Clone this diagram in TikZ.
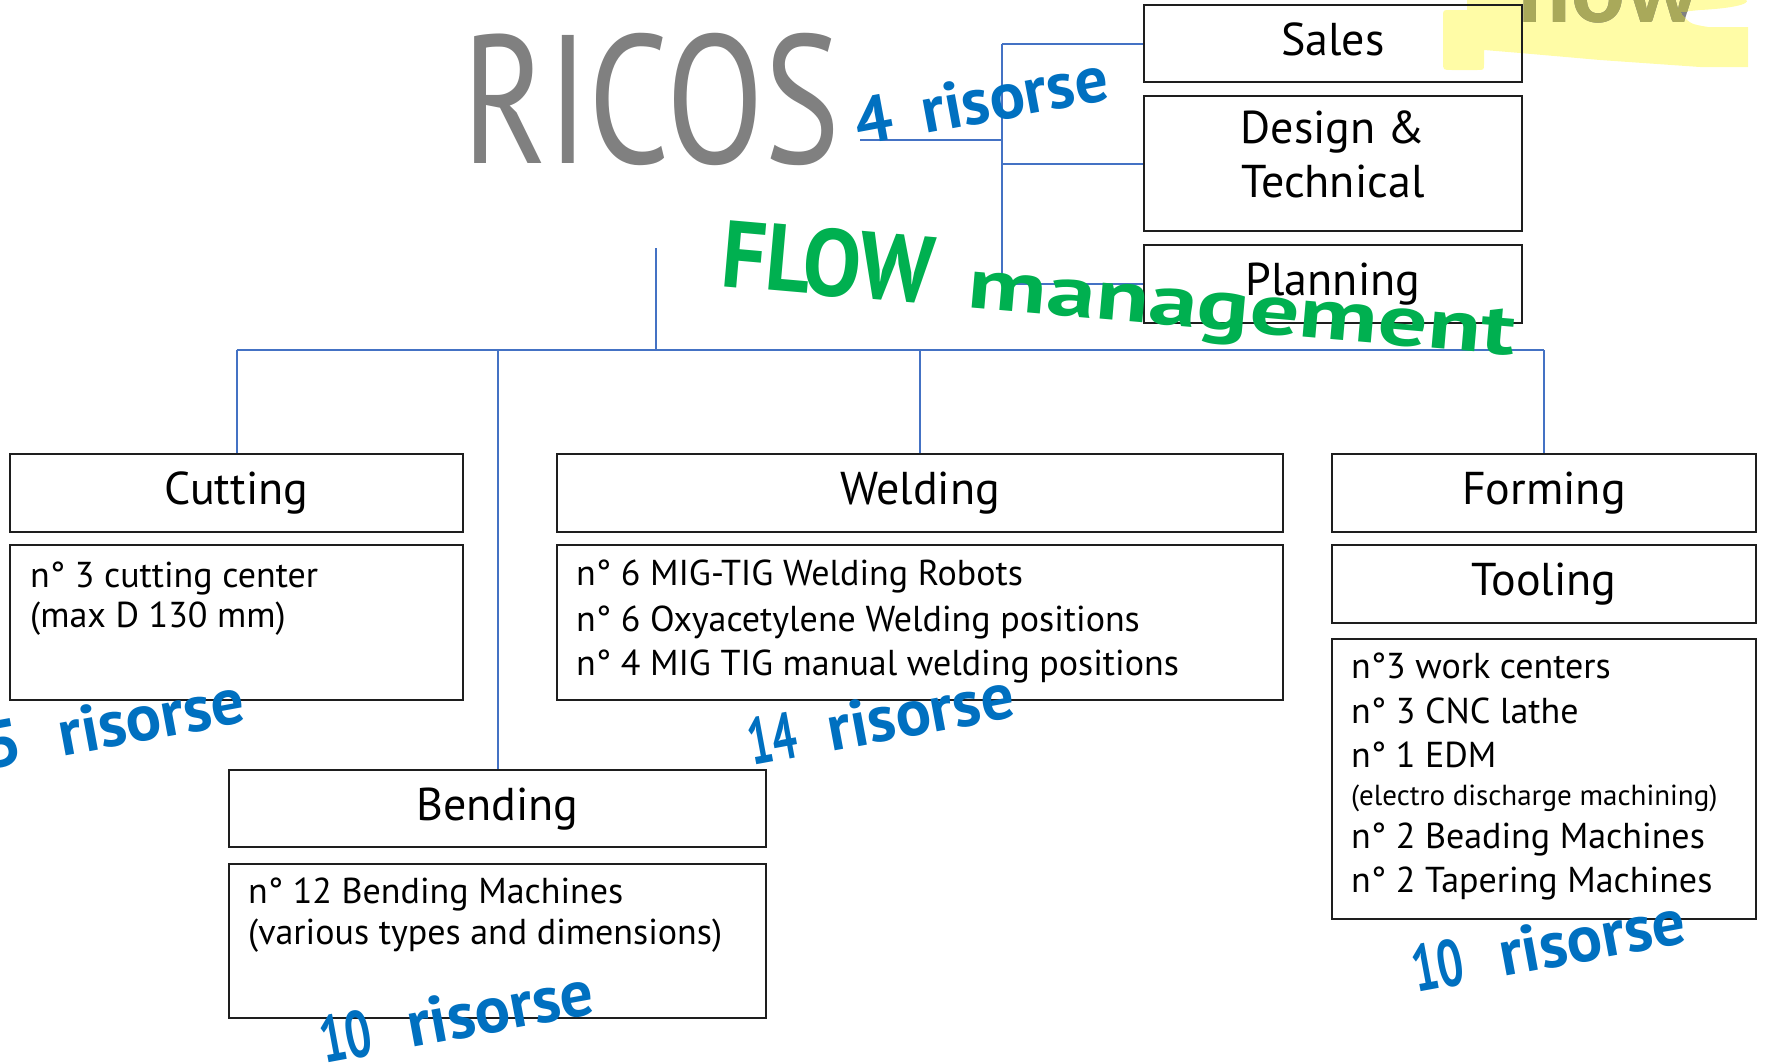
\documentclass[tikz,border=0pt]{standalone}
\usepackage{fontspec}
\setmainfont{PT Sans}
\newfontfamily\hlfont{Carlito}
\definecolor{lineblue}{HTML}{4472C4}
\definecolor{inkblue}{HTML}{0070C0}
\definecolor{inkgreen}{HTML}{00B050}
\definecolor{inkgray}{HTML}{808080}
\definecolor{hlyellow}{HTML}{FFFCA6}
\definecolor{hlolive}{HTML}{A9A95A}
\definecolor{boxline}{HTML}{1E1E1E}
\def\hlpath{(1467,-2) -- (1742,-2) .. controls (1756,2) and (1740,8) .. (1700,10) -- (1680,12) .. controls (1690,24) .. (1708,27) -- (1748,27) -- (1748,67) -- (1700,67) -- (1600,60) -- (1520,53) -- (1484,50) -- (1484,64) .. controls (1484,70) .. (1477,70) -- (1452,70) .. controls (1443,70) .. (1443,62) -- (1443,17) .. controls (1443,10) .. (1450,10) -- (1467,10) -- cycle}
\begin{document}
\begin{tikzpicture}[x=1pt,y=-1pt,
  orgbox/.style={draw=boxline, line width=2.3pt, inner sep=0pt},
  headtxt/.style={font=\fontsize{46}{50}\selectfont, text height=33pt, text depth=10pt},
  linetxt/.style={font=\fontsize{36}{40}\selectfont, anchor=base west, inner sep=0pt},
  smalltxt/.style={font=\fontsize{29}{32}\selectfont, anchor=base west, inner sep=0pt},
  conn/.style={draw=lineblue, line width=2pt},
  risorse/.style={text=inkblue, font=\fontsize{66}{66}\selectfont\bfseries, anchor=base west, inner sep=0pt, rotate=10.5},
]
\useasboundingbox (0,0) rectangle (1766,1063);
\clip (0,0) rectangle (1766,1063);

% yellow highlight with cut-off word
\fill[hlyellow] \hlpath;
\node[text=inkgray, font=\hlfont\bfseries\fontsize{100}{100}\selectfont, anchor=base west, inner sep=0pt] (flowword) at (1516,22) {flow};
\begin{scope}
  \clip \hlpath;
  \node[text=hlolive, font=\hlfont\bfseries\fontsize{100}{100}\selectfont, anchor=base west, inner sep=0pt] (flowwordhl) at (1516,22) {flow};
\end{scope}

% title
\node[text=inkgray, font=\fontsize{183}{183}\selectfont, anchor=base west, inner sep=0pt] (ricos) at (462,163) {\scalebox{0.78}[1]{RICOS}};

% management boxes
\node[orgbox, headtxt, minimum width=378pt, minimum height=77pt] (sales) at (1333,43.5) {Sales};
\node[orgbox, minimum width=378pt, minimum height=135pt] (design) at (1333,163.5) {};
\node[headtxt, anchor=base, inner sep=0pt] (designa) at (1333,143) {Design \&};
\node[headtxt, anchor=base, inner sep=0pt] (designb) at (1333,197) {Technical};
\node[orgbox, headtxt, minimum width=378pt, minimum height=78pt] (planning) at (1333,284) {Planning};

% production boxes
\node[orgbox, headtxt, minimum width=453pt, minimum height=78pt] (cutting) at (236.5,493) {Cutting};
\node[orgbox, minimum width=453pt, minimum height=155pt] (cutdet) at (236.5,622.5) {};
\node[orgbox, headtxt, minimum width=726pt, minimum height=78pt] (welding) at (920,493) {Welding};
\node[orgbox, minimum width=726pt, minimum height=155pt] (welddet) at (920,622.5) {};
\node[orgbox, headtxt, minimum width=424pt, minimum height=78pt] (forming) at (1544,493) {Forming};
\node[orgbox, headtxt, minimum width=424pt, minimum height=78pt] (tooling) at (1544,584) {Tooling};
\node[orgbox, minimum width=424pt, minimum height=280pt] (tooldet) at (1544,779) {};
\node[orgbox, headtxt, minimum width=537pt, minimum height=77pt] (bending) at (497.5,808.5) {Bending};
\node[orgbox, minimum width=537pt, minimum height=154pt] (benddet) at (497.5,941) {};

% detail texts
\node[linetxt] (cut1) at (30,587) {n° 3 cutting center};
\node[linetxt] (cut2) at (30,627) {(max D 130 mm)};
\node[linetxt] (weld1) at (576,585) {n° 6 MIG-TIG Welding Robots};
\node[linetxt] (weld2) at (576,631) {n° 6 Oxyacetylene Welding positions};
\node[linetxt] (weld3) at (576,675) {n° 4 MIG TIG manual welding positions};
\node[linetxt] (tool1) at (1351,678) {n°3 work centers};
\node[linetxt] (tool2) at (1351,723) {n° 3 CNC lathe};
\node[linetxt] (tool3) at (1351,767) {n° 1 EDM};
\node[smalltxt] (tool4) at (1351,805) {(electro discharge machining)};
\node[linetxt] (tool5) at (1351,848) {n° 2 Beading Machines};
\node[linetxt] (tool6) at (1351,892) {n° 2 Tapering Machines};
\node[linetxt] (bend1) at (248,903) {n° 12 Bending Machines};
\node[linetxt] (bend2) at (248,944) {(various types and dimensions)};

% connectors: management bracket
\coordinate (ricosend) at (860,140);
\coordinate (bk) at (1002,140);
\draw[conn] (ricosend) -- (bk);
\draw[conn] (bk |- sales.west) -- (bk |- planning.west);
\draw[conn] (bk |- sales.west) -- (sales.west);
\draw[conn] (bk |- design.west) -- (design.west);
\draw[conn] (bk |- planning.west) -- (planning.west);

% connectors: production tree
\coordinate (troot) at (655.5,248);
\coordinate (tbar) at (655.5,350);
\draw[conn] (troot) -- (tbar);
\draw[conn] (cutting.north |- tbar) -- (forming.north |- tbar);
\draw[conn] (cutting.north |- tbar) -- (cutting.north);
\draw[conn] (bending.north |- tbar) -- (bending.north);
\draw[conn] (welding.north |- tbar) -- (welding.north);
\draw[conn] (forming.north |- tbar) -- (forming.north);

% ink annotations
\node[text=inkgreen, font=\bfseries, anchor=base west, inner sep=0pt, rotate=-5] (flowmgmt) at (719,286)
  {\fontsize{95}{95}\selectfont\scalebox{0.92}[1]{FLOW}\hspace{36pt}\fontsize{90}{90}\selectfont\scalebox{1.09}[0.8]{management}};

\node[risorse] (ris4) at (859,146) {4\hspace{30pt}risorse};
\node[risorse] (ris5) at (-12,770) {5\hspace{38pt}risorse};
\node[risorse] (ris14) at (752,766) {\scalebox{0.65}[1]{14}\hspace{32pt}risorse};
\node[risorse] (ris10a) at (324,1064) {\scalebox{0.7}[1]{10}\hspace{36pt}risorse};
\node[risorse] (ris10b) at (1416,993) {\scalebox{0.7}[1]{10}\hspace{36pt}risorse};
\end{tikzpicture}
\end{document}
